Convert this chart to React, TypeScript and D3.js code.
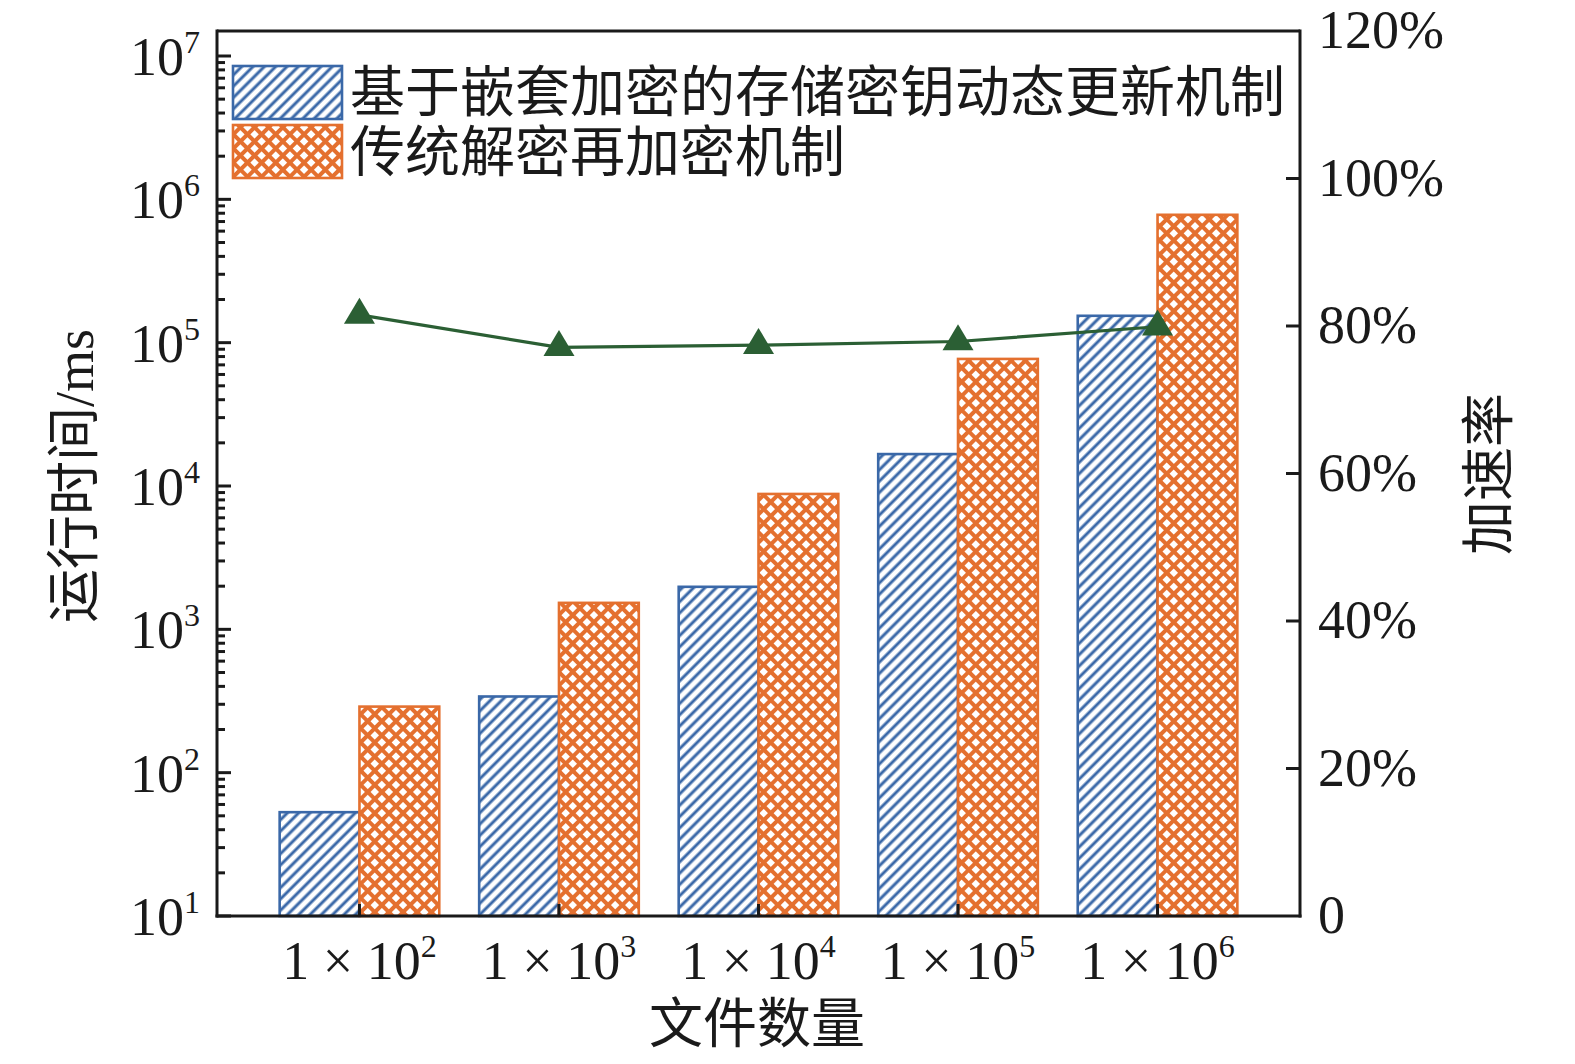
import React from "react";
import * as d3 from "d3";

// data
const categories = ["2", "3", "4", "5", "6"]; // exponent of 1 × 10^n files
const nestedTimes = [53, 340, 1980, 16700, 154000]; // ms
const traditionalTimes = [289, 1530, 8800, 77000, 780000]; // ms
const speedup = [0.815, 0.771, 0.774, 0.779, 0.799];
const leftExponents = [1, 2, 3, 4, 5, 6, 7];
const rightTicks = [0, 0.2, 0.4, 0.6, 0.8, 1.0, 1.2];
const seriesNames = ["基于嵌套加密的存储密钥动态更新机制", "传统解密再加密机制"];

const W = 1575;
const H = 1064;
const margin = { left: 217, right: 1300, top: 31, bottom: 916 };
const BLUE = "#3a68a8";
const ORANGE = "#e4702f";
const GREEN = "#2b5f34";
const FONT = "'Liberation Serif', 'Noto Sans CJK SC', serif";

const App: React.FC = () => {
  const x0 = d3
    .scaleBand<string>()
    .domain(categories)
    .range([margin.left, margin.right])
    .paddingInner(0.2)
    .paddingOuter(0.314);
  const x1 = d3
    .scaleBand<number>()
    .domain([0, 1])
    .range([0, x0.bandwidth()]);
  const y = d3.scaleLog().domain([10, 1e7]).range([margin.bottom, 56]);
  const yR = d3.scaleLinear().domain([0, 1.2]).range([margin.bottom, margin.top]);

  const center = (c: string) => (x0(c) ?? 0) + x0.bandwidth() / 2;

  const minor: number[] = [];
  leftExponents.slice(0, -1).forEach((e) => {
    for (let k = 2; k <= 9; k++) minor.push(k * Math.pow(10, e));
  });

  const line = d3
    .line<number>()
    .x((_, i) => center(categories[i]))
    .y((d) => yR(d));

  const tri = (cx: number, cy: number) =>
    `M${cx},${cy - 17.3}L${cx - 15.5},${cy + 8.7}L${cx + 15.5},${cy + 8.7}Z`;

  const series = [nestedTimes, traditionalTimes];
  const fills = ["url(#hatch)", "url(#cross)"];
  const strokes = [BLUE, ORANGE];

  return (
    <svg
      width={W}
      height={H}
      style={{ position: "absolute", left: 0, top: 0, background: "#fff" }}
      fontFamily={FONT}
    >
      <defs>
        <pattern
          id="hatch"
          patternUnits="userSpaceOnUse"
          width={8}
          height={8}
          patternTransform="rotate(45)"
        >
          <rect width={8} height={8} fill="#fff" />
          <line x1={2} y1={0} x2={2} y2={8} stroke={BLUE} strokeWidth={3} />
        </pattern>
        <pattern
          id="cross"
          patternUnits="userSpaceOnUse"
          width={10}
          height={10}
          patternTransform="rotate(45)"
        >
          <rect width={10} height={10} fill={ORANGE} />
          <rect x={2} y={2} width={6} height={6} fill="#fff" />
        </pattern>
      </defs>

      {/* bars */}
      {categories.map((c, i) => (
        <g key={c}>
          {series.map((s, j) => (
            <rect
              key={j}
              x={(x0(c) ?? 0) + (x1(j) ?? 0)}
              y={y(s[i])}
              width={x1.bandwidth()}
              height={margin.bottom - y(s[i])}
              fill={fills[j]}
              stroke={strokes[j]}
              strokeWidth={2.6}
            />
          ))}
        </g>
      ))}

      {/* speedup line */}
      <path d={line(speedup) ?? ""} fill="none" stroke={GREEN} strokeWidth={3.2} />
      {speedup.map((v, i) => (
        <path key={i} d={tri(center(categories[i]), yR(v))} fill={GREEN} />
      ))}

      {/* frame */}
      <g stroke="#1a1a1a" strokeWidth={3} fill="none">
        <line x1={margin.left} y1={margin.top} x2={margin.right} y2={margin.top} />
        <line x1={margin.left} y1={margin.top - 1.5} x2={margin.left} y2={margin.bottom + 1.5} />
        <line x1={margin.right} y1={margin.top - 1.5} x2={margin.right} y2={margin.bottom + 1.5} />
        <line x1={margin.left - 1.5} y1={margin.bottom} x2={margin.right + 1.5} y2={margin.bottom} />
        {leftExponents.map((e) => (
          <line key={e} x1={margin.left} x2={margin.left + 14} y1={y(Math.pow(10, e))} y2={y(Math.pow(10, e))} />
        ))}
        {minor.map((m) => (
          <line key={m} x1={margin.left} x2={margin.left + 8} y1={y(m)} y2={y(m)} />
        ))}
        {rightTicks.slice(1, -1).map((t) => (
          <line key={t} x1={margin.right - 14} x2={margin.right} y1={yR(t)} y2={yR(t)} />
        ))}
        {categories.map((c) => (
          <line key={c} x1={center(c)} x2={center(c)} y1={margin.bottom} y2={margin.bottom - 12} />
        ))}
      </g>

      {/* left tick labels */}
      {leftExponents.map((e) => (
        <text key={e} x={200} y={y(Math.pow(10, e)) + 19} textAnchor="end" fontSize={54} fill="#1a1a1a">
          10
          <tspan fontSize={32} dy={-22}>
            {e}
          </tspan>
        </text>
      ))}

      {/* right tick labels */}
      {rightTicks.map((t) => (
        <text key={t} x={1318} y={yR(t) + 17} fontSize={54} fill="#1a1a1a">
          {t === 0 ? "0" : `${Math.round(t * 100)}%`}
        </text>
      ))}

      {/* x tick labels */}
      {categories.map((c) => (
        <text key={c} x={center(c)} y={979} textAnchor="middle" fontSize={54} fill="#1a1a1a">
          1 × 10
          <tspan fontSize={32} dy={-22}>
            {c}
          </tspan>
        </text>
      ))}

      {/* axis titles */}
      <text x={757} y={1025} textAnchor="middle" dominantBaseline="central" fontSize={54} fill="#1a1a1a">
        文件数量
      </text>
      <text
        transform="translate(75,476) rotate(-90)"
        textAnchor="middle"
        dominantBaseline="central"
        fontSize={54}
        fill="#1a1a1a"
      >
        运行时间/ms
      </text>
      <text
        transform="translate(1490,474) rotate(-90)"
        textAnchor="middle"
        dominantBaseline="central"
        fontSize={54}
        fill="#1a1a1a"
      >
        加速率
      </text>

      {/* legend */}
      {seriesNames.map((name, j) => (
        <g key={name}>
          <rect
            x={233}
            y={66 + j * 59}
            width={109}
            height={53}
            fill={fills[j]}
            stroke={strokes[j]}
            strokeWidth={2.6}
          />
          <text x={350} y={92 + j * 60} dominantBaseline="central" fontSize={55} fill="#1a1a1a">
            {name}
          </text>
        </g>
      ))}
    </svg>
  );
};

export default App;
